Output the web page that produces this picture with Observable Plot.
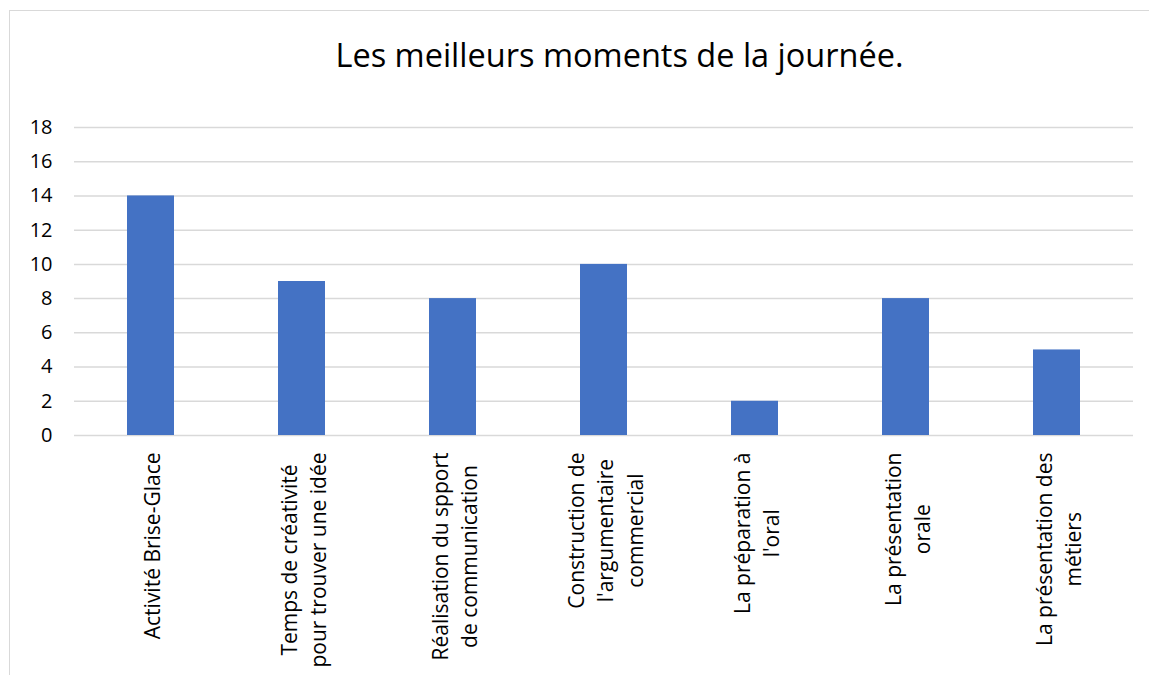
<!DOCTYPE html>
<html>
<head>
<meta charset="utf-8">
<script src="https://cdn.jsdelivr.net/npm/d3@7"></script>
<script src="https://cdn.jsdelivr.net/npm/@observablehq/plot@0.6"></script>
<style>
  html, body { margin: 0; padding: 0; background: #fff; overflow: hidden; width: 1149px; height: 675px; }
  #frame { position: absolute; left: 9px; top: 10px; width: 1300px; height: 800px; border: 1.5px solid #d9d9d9; box-sizing: border-box; }
  #title { position: absolute; left: 0; top: 35px; width: 1239px; text-align: center; font-family: 'Open Sans', sans-serif; font-size: 32.5px; line-height: 40px; color: #000; white-space: nowrap; }
  #chart { position: absolute; left: 0; top: 0; }
</style>
</head>
<body>
<div id="frame"></div>
<div id="chart"></div>
<div id="title">Les meilleurs moments de la journée.</div>
<script>
const categories = [
  "Activité Brise-Glace",
  "Temps de créativité pour trouver une idée",
  "Réalisation du spport de communication",
  "Construction de l'argumentaire commercial",
  "La préparation à l'oral",
  "La présentation orale",
  "La présentation des métiers"
];
const labels = [
  "Activité Brise-Glace",
  "Temps de créativité\npour trouver une idée",
  "Réalisation du spport\nde communication",
  "Construction de\nl'argumentaire\ncommercial",
  "La préparation à\nl'oral",
  "La présentation\norale",
  "La présentation des\nmétiers"
];
const values = [14, 9, 8, 10, 2, 8, 5];
const yTicks = [0, 2, 4, 6, 8, 10, 12, 14, 16, 18];

const data = categories.map((c, i) => ({cat: c, value: values[i]}));

const labelFont = 21;
const ctx = document.createElement("canvas").getContext("2d");
ctx.font = `${labelFont}px 'Open Sans'`;
const maxW = labels.map(l => Math.max(...l.split("\n").map(s => ctx.measureText(s).width)));

const labelMarks = categories.map((c, i) => Plot.text([i], {
  x: () => categories[i],
  text: () => labels[i],
  frameAnchor: "bottom",
  rotate: -90,
  textAnchor: "middle",
  lineAnchor: "middle",
  lineHeight: 1.4,
  fontSize: labelFont,
  fill: "#000",
  dy: 17 + maxW[i] / 2
}));

const chart = Plot.plot({
  width: 1149,
  height: 675,
  marginLeft: 74,
  marginRight: 16,
  marginTop: 127,
  marginBottom: 240,
  style: {fontFamily: "'Open Sans', sans-serif", background: "transparent", color: "#000"},
  x: {domain: categories, paddingInner: 0.69, paddingOuter: 0.345, axis: null},
  y: {domain: [0, 18], axis: null},
  marks: [
    Plot.gridY(yTicks, {stroke: "#d9d9d9", strokeOpacity: 1, strokeWidth: 1.5}),
    Plot.barY(data, {x: "cat", y: "value", fill: "#4472c4"}),
    Plot.axisY(yTicks, {tickSize: 0, tickPadding: 22, fontSize: 20, fill: "#000", label: null}),
    ...labelMarks
  ]
});
document.getElementById("chart").appendChild(chart);
</script>
</body>
</html>
